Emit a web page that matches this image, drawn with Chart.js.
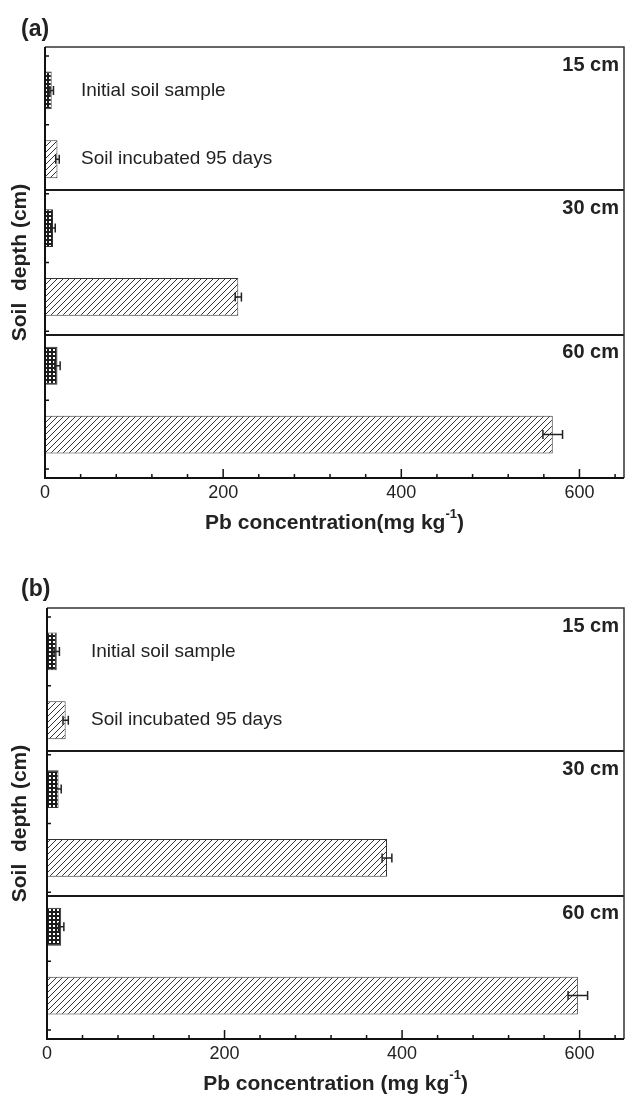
<!DOCTYPE html>
<html>
<head>
<meta charset="utf-8">
<script src="https://cdn.jsdelivr.net/npm/chart.js@4.4.1/dist/chart.umd.min.js"></script>
<style>
  body { margin: 0; background: #fff; }
  canvas { display: block; }
</style>
</head>
<body>
<canvas id="chartA" width="625" height="560"></canvas>
<canvas id="chartB" width="625" height="534"></canvas>
<script>
const depths = ["15 cm", "30 cm", "60 cm"];
const treatments = ["Initial soil sample", "Soil incubated 95 days"];
const xTicks = [0, 200, 400, 600];
const dividers = [2.45, 4.55];

// panel (a)
const initialA = [7.5, 9, 14];
const initialErrA = [2, 2.5, 3];
const incubatedA = [14, 217, 570];
const incubatedErrA = [2, 3.5, 11];

// panel (b)
const initialB = [11, 13, 16];
const initialErrB = [3, 3, 3];
const incubatedB = [21, 383, 598];
const incubatedErrB = [3, 5.5, 11];

Chart.defaults.font.family = "'Liberation Sans', Arial, sans-serif";
Chart.defaults.color = "#222";

function dotPattern(ctx) {
  const c = document.createElement("canvas");
  c.width = 4; c.height = 4;
  const g = c.getContext("2d");
  g.fillStyle = "#1c1c1c";
  g.fillRect(0, 0, 4, 4);
  g.fillStyle = "#fff";
  g.fillRect(1, 1, 2, 2);
  return ctx.createPattern(c, "repeat");
}

function hatchPattern(ctx) {
  const s = 6;
  const c = document.createElement("canvas");
  c.width = s; c.height = s;
  const g = c.getContext("2d");
  g.fillStyle = "#fff";
  g.fillRect(0, 0, s, s);
  g.strokeStyle = "#333";
  g.lineWidth = 1;
  g.beginPath();
  g.moveTo(-1, s + 1); g.lineTo(s + 1, -1);
  g.moveTo(-1, 1); g.lineTo(1, -1);
  g.moveTo(s - 1, s + 1); g.lineTo(s + 1, s - 1);
  g.stroke();
  return ctx.createPattern(c, "repeat");
}

function makePanel(p) {
  const canvas = document.getElementById(p.id);
  const ctx = canvas.getContext("2d");
  const H = canvas.height;
  const dots = dotPattern(ctx);
  const hatch = hatchPattern(ctx);

  // two bars per depth: initial then incubated
  const rows = [];
  depths.forEach((d, i) => {
    rows.push({ x: p.initial[i], y: 2 * i + 1, err: p.initialErr[i], kind: 0 });
    rows.push({ x: p.incubated[i], y: 2 * i + 2, err: p.incubatedErr[i], kind: 1 });
  });

  const decor = {
    id: "decor",
    afterDatasetsDraw(chart) {
      const c = chart.ctx;
      const a = chart.chartArea;
      const xs = chart.scales.x;
      const ys = chart.scales.y;
      c.save();

      // error bars
      c.strokeStyle = "#222";
      c.lineWidth = 1.5;
      chart.getDatasetMeta(0).data.forEach((bar, i) => {
        const r = rows[i];
        const x1 = xs.getPixelForValue(r.x - r.err);
        const x2 = xs.getPixelForValue(r.x + r.err);
        const y = bar.y;
        c.beginPath();
        c.moveTo(x1, y); c.lineTo(x2, y);
        c.moveTo(x1, y - 4.5); c.lineTo(x1, y + 4.5);
        c.moveTo(x2, y - 4.5); c.lineTo(x2, y + 4.5);
        c.stroke();
      });

      // section dividers
      c.strokeStyle = "#1a1a1a";
      c.lineWidth = 2;
      dividers.forEach(v => {
        const y = Math.round(ys.getPixelForValue(v));
        c.beginPath();
        c.moveTo(a.left, y); c.lineTo(a.right, y);
        c.stroke();
      });

      // frame
      c.strokeStyle = "#333";
      c.lineWidth = 1.5;
      c.beginPath();
      c.moveTo(a.left, a.top); c.lineTo(a.right, a.top); c.lineTo(a.right, a.bottom);
      c.stroke();
      c.strokeStyle = "#111";
      c.lineWidth = 2;
      c.beginPath();
      c.moveTo(a.left, a.top); c.lineTo(a.left, a.bottom); c.lineTo(a.right, a.bottom);
      c.stroke();

      // inward ticks
      c.lineWidth = 1.5;
      c.beginPath();
      for (let v = 0; v <= 650; v += 40) {
        const x = xs.getPixelForValue(v);
        const len = v % 200 === 0 ? 9 : 4;
        c.moveTo(x, a.bottom); c.lineTo(x, a.bottom - len);
      }
      for (let v = 0.5; v < 7; v += 1) {
        const y = ys.getPixelForValue(v);
        c.moveTo(a.left, y); c.lineTo(a.left + 4, y);
      }
      c.stroke();

      // depth labels
      c.fillStyle = "#222";
      c.font = "bold 20px 'Liberation Sans', Arial, sans-serif";
      c.textAlign = "right";
      c.textBaseline = "middle";
      const tops = [a.top].concat(dividers.map(v => ys.getPixelForValue(v)));
      depths.forEach((d, i) => c.fillText(d, a.right - 5, tops[i] + 18));

      // treatment labels beside the first two bars
      c.font = "19px 'Liberation Sans', Arial, sans-serif";
      c.textAlign = "left";
      treatments.forEach((t, i) => c.fillText(t, a.left + p.textGap, ys.getPixelForValue(i + 1)));

      // panel letter
      c.font = "bold 23px 'Liberation Sans', Arial, sans-serif";
      c.fillText(p.letter, 21, 30);

      // x axis title with superscript
      const main = "Pb concentration" + p.gap + "(mg kg";
      const big = "bold 21px 'Liberation Sans', Arial, sans-serif";
      const small = "bold 13px 'Liberation Sans', Arial, sans-serif";
      c.font = big;
      const w1 = c.measureText(main).width;
      const w3 = c.measureText(")").width;
      c.font = small;
      const w2 = c.measureText("-1").width;
      const ty = a.bottom + 45;
      let tx = (a.left + a.right) / 2 - (w1 + w2 + w3) / 2;
      c.font = big;
      c.fillText(main, tx, ty);
      tx += w1;
      c.font = small;
      c.fillText("-1", tx, ty - 9);
      tx += w2;
      c.font = big;
      c.fillText(")", tx, ty);

      c.restore();
    }
  };

  return new Chart(ctx, {
    type: "bar",
    data: {
      datasets: [{
        data: rows,
        backgroundColor: rows.map(r => r.kind ? hatch : dots),
        borderColor: "#333",
        borderWidth: 1,
        borderSkipped: false,
        categoryPercentage: 1,
        barPercentage: 0.55
      }]
    },
    options: {
      responsive: false,
      animation: false,
      indexAxis: "y",
      layout: { padding: { top: p.top, right: 1, left: 0, bottom: 0 } },
      plugins: { legend: { display: false }, tooltip: { enabled: false } },
      scales: {
        x: {
          type: "linear",
          min: 0,
          max: 650,
          grid: { display: false, drawTicks: false },
          border: { display: false },
          afterBuildTicks: s => { s.ticks = xTicks.map(v => ({ value: v })); },
          ticks: { padding: 4, font: { size: 18 }, color: "#222" },
          afterFit: s => { s.height = H - p.bottom; }
        },
        y: {
          type: "linear",
          reverse: true,
          offset: false,
          min: 0.37,
          max: 6.63,
          grid: { display: false, drawTicks: false, offset: false },
          border: { display: false },
          afterBuildTicks: s => { s.ticks = rows.map(r => ({ value: r.y })); },
          ticks: { display: false },
          title: {
            display: true,
            text: "Soil  depth (cm)",
            color: "#222",
            font: { size: 21, weight: "bold" },
            padding: { top: 8, bottom: 0 }
          },
          afterFit: s => { s.width = p.left; }
        }
      }
    },
    plugins: [decor]
  });
}

makePanel({
  id: "chartA", letter: "(a)", gap: "",
  initial: initialA, initialErr: initialErrA,
  incubated: incubatedA, incubatedErr: incubatedErrA,
  left: 45, top: 47, bottom: 478, textGap: 36
});

makePanel({
  id: "chartB", letter: "(b)", gap: " ",
  initial: initialB, initialErr: initialErrB,
  incubated: incubatedB, incubatedErr: incubatedErrB,
  left: 47, top: 48, bottom: 479, textGap: 44
});
</script>
</body>
</html>
